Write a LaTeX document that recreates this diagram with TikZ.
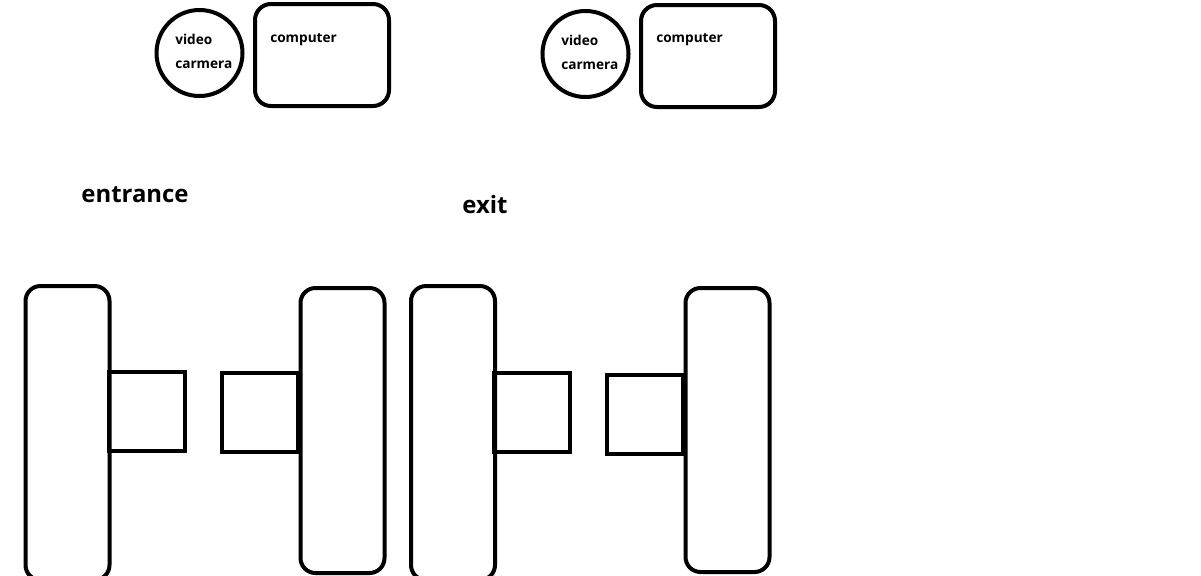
\documentclass[tikz,border=0pt]{standalone}
\usepackage{fontspec}
\setmainfont{Open Sans}
\usetikzlibrary{positioning}
\def\u{0.025cm} % one pixel of the sketch

\tikzset{
  sketch/.style={draw, line width=4*\u, inner sep=0pt, outer sep=0pt},
  wall/.style={sketch, rounded corners=15*\u, minimum width=84*\u},
  gate/.style={sketch, minimum width=76*\u, minimum height=79*\u},
  cam/.style={sketch, circle, minimum size=86*\u},
  camtext/.style={align=left, inner sep=0pt, font=\bfseries\fontsize{9.7}{17}\selectfont},
  pc/.style={sketch, rounded corners=16*\u, minimum width=134*\u, minimum height=102*\u},
  small/.style={font=\bfseries\fontsize{9.7}{12}\selectfont, inner sep=0pt},
  place/.style={font=\bfseries\fontsize{17}{20}\selectfont, inner sep=0pt}
}

\begin{document}
\begin{tikzpicture}[x=\u, y=-\u]
  \useasboundingbox (0,0) rectangle (1201,575);

  % ---------------- entrance ----------------
  \begin{scope}
    \node[cam] (camA) at (199.5,53) {};
    \node[camtext, anchor=west] (camAtext) at (175,51) {video\\carmera};
    \node[pc] (pcA) at (322,55) {};
    \node[small, anchor=west] (pcAtext) at (270,40) {computer};
    \node[wall, minimum height=294*\u] (wallAl) at (67.5,433) {};
    \node[wall, minimum height=285*\u] (wallAr) at (342.5,430.5) {};
    \node[gate] (gateAl) at (147,411) {};
    \node[gate] (gateAr) at (259.5,412.5) {};
  \end{scope}
  \node[place] (entrance) at (135,195) {entrance};

  % ---------------- exit ----------------
  \begin{scope}[xshift=386*\u]
    \node[cam] (camB) at (199.5,54) {};
    \node[camtext, anchor=west] (camBtext) at (175,52) {video\\carmera};
    \node[pc] (pcB) at (322,56) {};
    \node[small, anchor=west] (pcBtext) at (270,40) {computer};
    \node[wall, minimum height=294*\u] (wallBl) at (67,433) {};
    \node[wall, minimum height=284*\u] (wallBr) at (341.5,430) {};
    \node[gate] (gateBl) at (145.5,412.5) {};
    \node[gate] (gateBr) at (258.5,414) {};
  \end{scope}
  \node[place] (exit) at (485,205) {exit};
\end{tikzpicture}
\end{document}
